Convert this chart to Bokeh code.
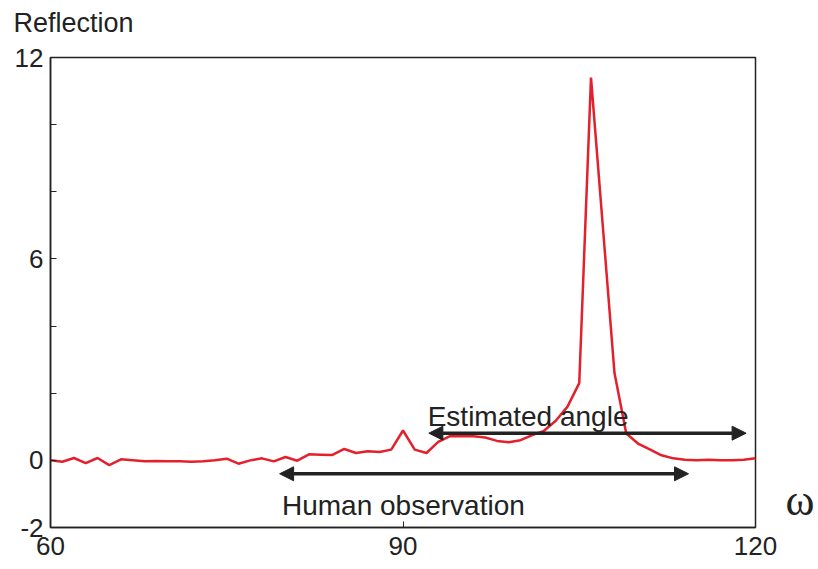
from bokeh.plotting import figure
from bokeh.models import FixedTicker, Range1d, Arrow, NormalHead, Label, LinearAxis
from bokeh.embed import file_html
from bokeh.resources import INLINE

omega = list(range(60, 121))
reflection = [
    0.0, -0.04, 0.07, -0.08, 0.07, -0.14, 0.03, 0.0, -0.03, -0.02,
    -0.03, -0.03, -0.04, -0.03, 0.0, 0.05, -0.1, 0.0, 0.06, -0.03,
    0.1, -0.01, 0.18, 0.17, 0.16, 0.34, 0.22, 0.27, 0.25, 0.32,
    0.89, 0.32, 0.22, 0.55, 0.72, 0.72, 0.72, 0.68, 0.58, 0.54,
    0.6, 0.75, 0.88, 1.18, 1.6, 2.3, 11.4, 7.0, 2.6, 0.8,
    0.5, 0.33, 0.15, 0.06, 0.02, 0.0, 0.02, 0.0, 0.0, 0.02,
    0.06,
]

x_ticks = [60, 90, 120]
y_ticks = [-2, 0, 2, 4, 6, 8, 10, 12]
y_labels = {-2: "-2", 0: "0", 2: "", 4: "", 6: "6", 8: "", 10: "", 12: "12"}

est_range = [92.2, 119.2, 0.81]
human_range = [79.5, 114.3, -0.4]

FONT = "Liberation Sans"
DARK = "#222222"

p = figure(width=818, height=569, output_backend="svg", toolbar_location=None,
           title=None,
           x_range=Range1d(60, 120), y_range=Range1d(-2, 12),
           min_border_left=50, min_border_right=63, min_border_top=57, min_border_bottom=42)
p.grid.visible = False
p.background_fill_color = "white"
p.border_fill_color = "white"
p.outline_line_color = DARK
p.outline_line_width = 1.5

for ax in (p.xaxis[0], p.yaxis[0]):
    ax.axis_line_color = DARK
    ax.axis_line_width = 1.5
    ax.major_tick_in = 6
    ax.major_tick_out = 0
    ax.minor_tick_line_color = None
    ax.major_tick_line_color = DARK
    ax.major_tick_line_width = 1
    ax.major_label_text_font = FONT
    ax.major_label_text_font_size = "26px"
    ax.major_label_text_color = DARK

p.xaxis.ticker = FixedTicker(ticks=x_ticks)
p.xaxis.major_label_standoff = 9
p.yaxis.ticker = FixedTicker(ticks=y_ticks)
p.yaxis.major_label_overrides = y_labels
p.yaxis.major_label_standoff = 7

# top axis used only to carry the "Reflection" heading
tax = LinearAxis(ticker=FixedTicker(ticks=[61.96]), major_label_overrides={61.96: "Reflection"})
tax.axis_line_color = None
tax.major_tick_line_color = None
tax.minor_tick_line_color = None
tax.major_label_standoff = 14
tax.major_label_text_font = FONT
tax.major_label_text_font_size = "27px"
tax.major_label_text_color = DARK
p.add_layout(tax, "above")

# right-hand axis used only to carry the omega symbol
rax = LinearAxis(ticker=FixedTicker(ticks=[-1.2]), major_label_overrides={-1.2: "ω"})
rax.axis_line_color = None
rax.major_tick_line_color = None
rax.minor_tick_line_color = None
rax.major_label_standoff = 24
rax.major_label_text_font = "Liberation Serif"
rax.major_label_text_font_size = "44px"
rax.major_label_text_color = DARK
p.add_layout(rax, "right")

p.line(omega, reflection, line_color="#e3202b", line_width=2.5)

for x0, x1, yy in [(est_range[0], est_range[1], est_range[2]),
                   (human_range[0], human_range[1], human_range[2])]:
    p.add_layout(Arrow(x_start=x0, x_end=x1, y_start=yy, y_end=yy,
                       line_color=DARK, line_width=3.5,
                       start=NormalHead(size=14, fill_color=DARK, line_color=DARK),
                       end=NormalHead(size=14, fill_color=DARK, line_color=DARK)))

p.add_layout(Label(x=92.1, y=1.31, text="Estimated angle", text_font=FONT,
                   text_font_size="28px", text_color=DARK, text_baseline="alphabetic"))
p.add_layout(Label(x=79.7, y=-1.34, text="Human observation", text_font=FONT,
                   text_font_size="28px", text_color=DARK, text_baseline="alphabetic"))

open("out.html", "w").write(file_html(p, INLINE))
